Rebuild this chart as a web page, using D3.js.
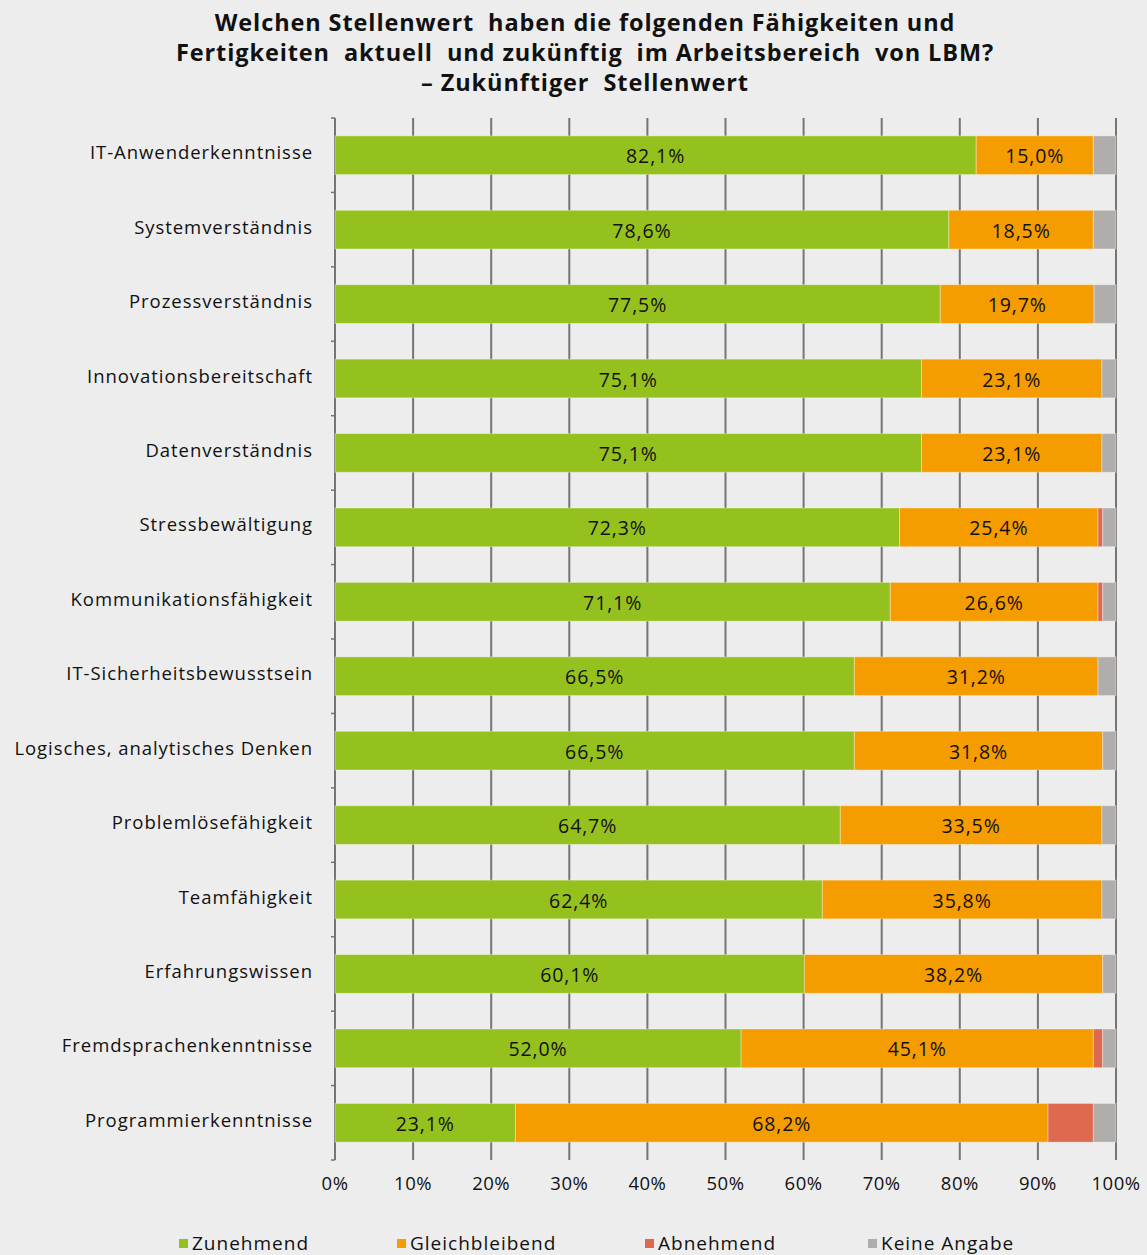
<!DOCTYPE html>
<html><head><meta charset="utf-8">
<script src="https://cdn.jsdelivr.net/npm/d3@7"></script>
<style>html,body{margin:0;padding:0;background:#ededed;}svg{display:block;}</style>
</head><body>
<script>
const categories = ["IT-Anwenderkenntnisse","Systemverständnis","Prozessverständnis","Innovationsbereitschaft","Datenverständnis","Stressbewältigung","Kommunikationsfähigkeit","IT-Sicherheitsbewusstsein","Logisches, analytisches Denken","Problemlösefähigkeit","Teamfähigkeit","Erfahrungswissen","Fremdsprachenkenntnisse","Programmierkenntnisse"];
const zunehmend =     [82.1,78.6,77.5,75.1,75.1,72.3,71.1,66.5,66.5,64.7,62.4,60.1,52.0,23.1];
const gleichbleibend =[15.0,18.5,19.7,23.1,23.1,25.4,26.6,31.2,31.8,33.5,35.8,38.2,45.1,68.2];
const abnehmend =     [0,0,0,0,0,0.6,0.6,0,0,0,0,0,1.2,5.8];
const keineAngabe =   [2.9,2.9,2.8,1.8,1.8,1.7,1.7,2.3,1.7,1.8,1.8,1.7,1.7,2.9];
const seriesNames = ["Zunehmend","Gleichbleibend","Abnehmend","Keine Angabe"];
const colors = ["#95c11f","#f59c00","#dd6a4e","#b0adab"];
const xTicks = [0,10,20,30,40,50,60,70,80,90,100];
const titleLines = ["Welchen Stellenwert  haben die folgenden Fähigkeiten und","Fertigkeiten  aktuell  und zukünftig  im Arbeitsbereich  von LBM?","– Zukünftiger  Stellenwert"];

const W=1147,H=1255;
const svg=d3.select("body").append("svg").attr("width",W).attr("height",H);
svg.append("rect").attr("width",W).attr("height",H).attr("fill","#ededed");
const font="'Open Sans', 'Noto Sans', sans-serif";

const x=d3.scaleLinear().domain([0,100]).range([335,1116]);
const y=d3.scaleBand().domain(categories).range([118,1160]).paddingInner(0.48).paddingOuter(0.24);

// title
svg.append("g").selectAll("text").data(titleLines).join("text")
  .attr("x",585).attr("y",(d,i)=>31+i*30).attr("text-anchor","middle")
  .attr("font-family",font).attr("font-weight","bold").attr("font-size",23.5)
  .attr("letter-spacing",0.9)
  .attr("fill","#111").style("white-space","pre").text(d=>d);

// gridlines
svg.append("g").selectAll("line").data(xTicks.slice(1)).join("line")
  .attr("x1",d=>x(d)).attr("x2",d=>x(d)).attr("y1",118).attr("y2",1160)
  .attr("stroke","#767474").attr("stroke-width",2);

// axis line + ticks at band boundaries
svg.append("line").attr("x1",335).attr("x2",335).attr("y1",118).attr("y2",1160).attr("stroke","#767474").attr("stroke-width",2);
const bounds=d3.range(categories.length+1).map(i=>118+i*(1042/categories.length));
svg.append("g").selectAll("line").data(bounds).join("line")
  .attr("x1",331).attr("x2",335).attr("y1",d=>d).attr("y2",d=>d)
  .attr("stroke","#767474").attr("stroke-width",1.5);

// stacked data
const rows=categories.map((c,i)=>({cat:c,Zunehmend:zunehmend[i],Gleichbleibend:gleichbleibend[i],Abnehmend:abnehmend[i],"Keine Angabe":keineAngabe[i]}));
const stack=d3.stack().keys(seriesNames)(rows);
const gs=svg.append("g").selectAll("g").data(stack).join("g").attr("fill",(d,i)=>colors[i]);
gs.selectAll("rect").data(d=>d).join("rect")
  .attr("x",d=>x(d[0])).attr("width",d=>Math.max(0,x(d[1])-x(d[0])))
  .attr("y",d=>y(d.data.cat)).attr("height",y.bandwidth())
  .attr("stroke","rgba(255,255,255,0.35)").attr("stroke-width",d=>(d[1]-d[0])>0?1:0);

// value labels for first two series
stack.slice(0,2).forEach(s=>{
  svg.append("g").selectAll("text").data(s).join("text")
    .attr("x",d=>x((d[0]+d[1])/2)).attr("y",d=>y(d.data.cat)+y.bandwidth()/2+8)
    .attr("text-anchor","middle").attr("font-family",font).attr("font-size",19.5)
    .attr("fill","#111").attr("letter-spacing",0.9)
    .text(d=>(d[1]-d[0]).toFixed(1).replace(".",",")+"%");
});

// category labels
svg.append("g").selectAll("text").data(categories).join("text")
  .attr("x",313).attr("y",d=>y(d)+y.bandwidth()/2+4)
  .attr("text-anchor","end").attr("font-family",font).attr("font-size",18.5)
  .attr("fill","#111").attr("letter-spacing",0.95).text(d=>d);

// x tick labels
svg.append("g").selectAll("text").data(xTicks).join("text")
  .attr("x",d=>x(d)).attr("y",1190).attr("text-anchor","middle")
  .attr("font-family",font).attr("font-size",18.5).attr("letter-spacing",0.5).attr("fill","#111").text(d=>d+"%");

// legend
const legX=[179,397,645,868];
const lg=svg.append("g").selectAll("g").data(seriesNames).join("g")
  .attr("transform",(d,i)=>`translate(${legX[i]},1239)`);
lg.append("rect").attr("x",0).attr("y",0).attr("width",9).attr("height",9).attr("fill",(d,i)=>colors[i]);
lg.append("text").attr("x",13).attr("y",11).attr("font-family",font).attr("font-size",19).attr("letter-spacing",1).attr("fill","#111").text(d=>d);
</script>
</body></html>
